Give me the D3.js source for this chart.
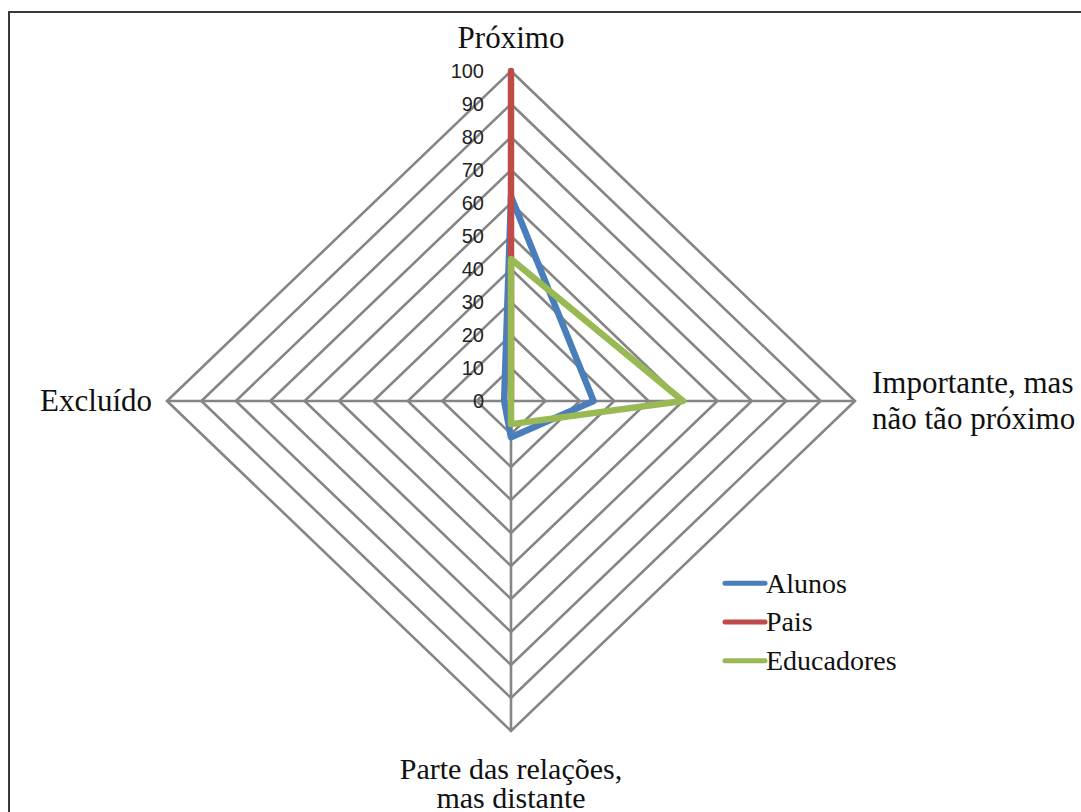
<!DOCTYPE html>
<html>
<head>
<meta charset="utf-8">
<script src="https://cdn.jsdelivr.net/npm/d3@7"></script>
<style>
  html, body { margin: 0; padding: 0; background: #fff; }
  svg { display: block; }
</style>
</head>
<body>
<svg id="chart" width="1081" height="812"></svg>
<script>
// ---- data ----
const axes = ["Próximo", "Importante, mas não tão próximo", "Parte das relações, mas distante", "Excluído"];
const seriesNames = ["Alunos", "Pais", "Educadores"];
const alunos = [62, 24, 11, 2];
const pais = [100, 0, 0, 0];
const educadores = [43, 50, 7, 0];
const tickValues = [0, 10, 20, 30, 40, 50, 60, 70, 80, 90, 100];
const colors = ["#4A7EBB", "#BE4B48", "#98B954"];

const series = [alunos, pais, educadores];

const svg = d3.select("#chart");

// frame (right and bottom edges fall outside the picture)
svg.append("rect")
  .attr("x", 9).attr("y", 12).attr("width", 1200).attr("height", 900)
  .attr("fill", "#fff").attr("stroke", "#3a3a3a").attr("stroke-width", 2);

const cx = 511, cy = 401;
const rx = d3.scaleLinear().domain([0, 100]).range([0, 344]);
const ry = d3.scaleLinear().domain([0, 100]).range([0, 330]);

// directions: top, right, bottom, left
const dirs = [[0, -1], [1, 0], [0, 1], [-1, 0]];
function pt(i, v) {
  return [cx + dirs[i][0] * rx(v), cy + dirs[i][1] * ry(v)];
}

const g = svg.append("g");

// rings
const ringVals = tickValues.filter(d => d > 0);
g.selectAll("path.ring").data(ringVals).enter().append("path")
  .attr("class", "ring")
  .attr("d", v => d3.line()(axes.map((a, i) => pt(i, v))) + "Z")
  .attr("fill", "none").attr("stroke", "#858585").attr("stroke-width", 2.6);

// spokes
g.selectAll("line.spoke").data(axes).enter().append("line")
  .attr("x1", cx).attr("y1", cy)
  .attr("x2", (d, i) => pt(i, 100)[0]).attr("y2", (d, i) => pt(i, 100)[1])
  .attr("stroke", "#858585").attr("stroke-width", 2.6);

// tick labels
g.selectAll("text.tick").data(tickValues).enter().append("text")
  .attr("x", cx - 27).attr("y", v => cy - ry(v))
  .attr("dy", "0.35em")
  .attr("text-anchor", "end")
  .attr("font-family", "Liberation Sans, Arial, sans-serif")
  .attr("font-size", 20).attr("fill", "#222")
  .text(d => d);

// series
const lineGen = d3.line().curve(d3.curveLinearClosed);
series.forEach((vals, s) => {
  g.append("path")
    .attr("d", lineGen(vals.map((v, i) => pt(i, v))))
    .attr("fill", "none").attr("stroke", colors[s])
    .attr("stroke-width", 6.5).attr("stroke-linejoin", "round");
});

// axis labels
const serif = "Liberation Serif, Times New Roman, serif";
const lab = svg.append("g").attr("font-family", serif).attr("font-size", 31).attr("fill", "#111");
lab.append("text").attr("x", cx).attr("y", 48).attr("text-anchor", "middle").text(axes[0]);
const rt = lab.append("text").attr("text-anchor", "start");
rt.append("tspan").attr("x", 872).attr("y", 393).text("Importante, mas");
rt.append("tspan").attr("x", 872).attr("y", 429).text("não tão próximo");
const bt = lab.append("text").attr("text-anchor", "middle").attr("font-size", 30);
bt.append("tspan").attr("x", cx).attr("y", 779).text("Parte das relações,");
bt.append("tspan").attr("x", cx).attr("y", 808).text("mas distante");
lab.append("text").attr("x", 152).attr("y", 411).attr("text-anchor", "end").text(axes[3]);

// legend
const leg = svg.append("g");
const legY = d3.scaleBand().domain(seriesNames).range([564, 680]);
seriesNames.forEach((name, i) => {
  const y = legY(name) + legY.bandwidth() / 2;
  leg.append("line").attr("x1", 725).attr("x2", 765).attr("y1", y).attr("y2", y)
    .attr("stroke", colors[i]).attr("stroke-width", 5).attr("stroke-linecap", "round");
  leg.append("text").attr("x", 766).attr("y", y).attr("dy", "0.33em")
    .attr("font-family", serif).attr("font-size", 28).attr("fill", "#111")
    .text(name);
});
</script>
</body>
</html>
